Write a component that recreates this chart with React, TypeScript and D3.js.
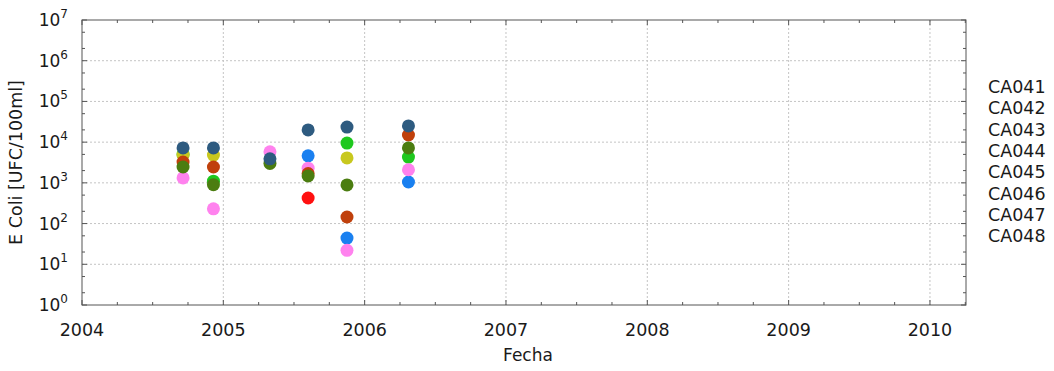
import React from "react";
import * as d3 from "d3";

const seriesNames = ["CA041", "CA042", "CA043", "CA044", "CA045", "CA046", "CA047", "CA048"];
const seriesColors = ["#1a80f0", "#ff1010", "#1ec81e", "#c8c81e", "#ff82ee", "#c0400c", "#4b7d10", "#2e5b80"];
// sampling dates (decimal years)
const sampleDates = [2004.715, 2004.93, 2005.33, 2005.6, 2005.875, 2006.31];
// values per series, one per sampling date (null = no sample)
const ca041 = [null, null, null, 4600, 44, 1050];
const ca042 = [null, null, null, 425, null, null];
const ca043 = [5000, 1100, null, null, 9500, 4300];
const ca044 = [4800, 4800, null, null, 4100, null];
const ca045 = [1320, 230, 5800, 2300, 22, 2100];
const ca046 = [3250, 2450, null, 1700, 145, 15000];
const ca047 = [2450, 900, 3000, 1480, 890, 7200];
const ca048 = [7200, 7200, 3900, 20000, 23500, 25000];
const seriesValues = [ca041, ca042, ca043, ca044, ca045, ca046, ca047, ca048];

const xTicks = [2004, 2005, 2006, 2007, 2008, 2009, 2010];
const yExponents = [0, 1, 2, 3, 4, 5, 6, 7];

export default function App() {
  const W = 1054, H = 371;
  const left = 82, right = 966, top = 20, bottom = 305;
  const x = d3.scaleLinear().domain([2004, 2010.255]).range([left, right]);
  const y = d3.scaleLog().domain([1, 1e7]).range([bottom, top]);
  const font = "DejaVu Sans, sans-serif";
  const axisColor = "#555";
  const gridColor = "#c4c4c4";
  const textColor = "#1a1a1a";

  const xMinor: number[] = [];
  for (let v = 2004; v <= 2010.25; v += 0.25) if (Math.abs(v - Math.round(v)) > 0.01) xMinor.push(v);
  const yMinor: number[] = [];
  for (let e = 0; e < 7; e++) for (const m of [2, 5]) yMinor.push(m * Math.pow(10, e));

  return (
    <svg width={W} height={H} style={{ position: "absolute", left: 0, top: 0, background: "#fff" }}>
      {/* grid */}
      {xTicks.slice(1).map((t) => (
        <line key={"gx" + t} x1={x(t)} x2={x(t)} y1={top} y2={bottom} stroke={gridColor} strokeDasharray="2,2" />
      ))}
      {yExponents.slice(1, -1).map((e) => (
        <line key={"gy" + e} x1={left} x2={right} y1={y(Math.pow(10, e))} y2={y(Math.pow(10, e))} stroke={gridColor} strokeDasharray="2,2" />
      ))}
      {/* ticks */}
      {xTicks.map((t) => (
        <g key={"xt" + t}>
          <line x1={x(t)} x2={x(t)} y1={bottom} y2={bottom - 5} stroke={axisColor} />
          <line x1={x(t)} x2={x(t)} y1={top} y2={top + 5} stroke={axisColor} />
        </g>
      ))}
      {xMinor.map((t) => (
        <g key={"xm" + t}>
          <line x1={x(t)} x2={x(t)} y1={bottom} y2={bottom - 3} stroke={axisColor} />
          <line x1={x(t)} x2={x(t)} y1={top} y2={top + 3} stroke={axisColor} />
        </g>
      ))}
      {yExponents.map((e) => (
        <g key={"yt" + e}>
          <line x1={left} x2={left + 5} y1={y(Math.pow(10, e))} y2={y(Math.pow(10, e))} stroke={axisColor} />
          <line x1={right} x2={right - 5} y1={y(Math.pow(10, e))} y2={y(Math.pow(10, e))} stroke={axisColor} />
        </g>
      ))}
      {yMinor.map((v) => (
        <g key={"ym" + v}>
          <line x1={left} x2={left + 3} y1={y(v)} y2={y(v)} stroke={axisColor} />
          <line x1={right} x2={right - 3} y1={y(v)} y2={y(v)} stroke={axisColor} />
        </g>
      ))}
      {/* frame */}
      <rect x={left} y={top} width={right - left} height={bottom - top} fill="none" stroke={axisColor} />
      {/* points */}
      {seriesValues.map((vals, si) =>
        vals.map((v, i) =>
          v == null ? null : (
            <circle key={si + "-" + i} cx={x(sampleDates[i])} cy={y(v)} r={6.5} fill={seriesColors[si]} />
          )
        )
      )}
      {/* tick labels */}
      {xTicks.map((t) => (
        <text key={"xl" + t} x={x(t)} y={bottom + 31} textAnchor="middle" fontFamily={font} fontSize={17.5} fill={textColor}>
          {t}
        </text>
      ))}
      {yExponents.map((e) => (
        <text key={"yl" + e} x={68} y={y(Math.pow(10, e)) + 6} textAnchor="end" fontFamily={font} fontSize={17} fill={textColor}>
          10
          <tspan dy={-8} fontSize={12}>{e}</tspan>
        </text>
      ))}
      {/* axis labels */}
      <text x={(left + right) / 2 + 4} y={361} textAnchor="middle" fontFamily={font} fontSize={17} fill={textColor}>
        Fecha
      </text>
      <text transform={`translate(22,${(top + bottom) / 2}) rotate(-90)`} textAnchor="middle" fontFamily={font} fontSize={17.5} fill={textColor}>
        E Coli [UFC/100ml]
      </text>
      {/* legend */}
      {seriesNames.map((n, i) => (
        <text key={n} x={988} y={93 + i * 21.3} fontFamily={font} fontSize={17.5} fill={textColor}>
          {n}
        </text>
      ))}
    </svg>
  );
}
